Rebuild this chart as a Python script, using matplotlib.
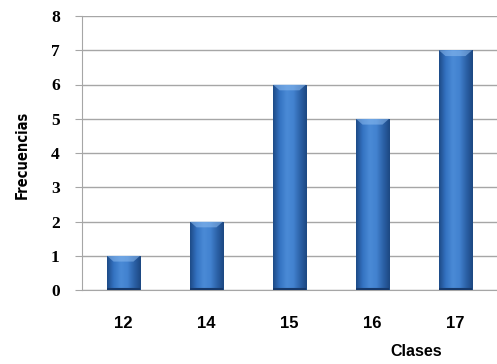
import numpy as np
import matplotlib
matplotlib.use("Agg")
import matplotlib.pyplot as plt
from matplotlib.patches import Polygon
from matplotlib.colors import LinearSegmentedColormap

clases = ["12", "14", "15", "16", "17"]
frecuencias = [1, 2, 6, 5, 7]
y_ticks = [0, 1, 2, 3, 4, 5, 6, 7, 8]

fig = plt.figure(figsize=(4.97, 3.64), dpi=100)
ax = fig.add_axes([82 / 497, 1 - 290 / 364, 1 - 82 / 497, (290 - 16) / 364])

x = np.arange(len(clases))
width = 0.4
bars = ax.bar(x, frecuencias, width=width, color="#3a72bd", zorder=3,
              edgecolor="#1c4272", linewidth=0.6)

# cylinder-like horizontal shading inside each bar
shade = LinearSegmentedColormap.from_list(
    "shade", ["#1d4a86", "#3473c2", "#4a8ad6", "#4383d0", "#2c62a8", "#1c4780"])
grad = np.linspace(0, 1, 256).reshape(1, -1)
for b in bars:
    x0, w, h = b.get_x(), b.get_width(), b.get_height()
    im = ax.imshow(grad, cmap=shade, aspect="auto", extent=[x0, x0 + w, 0, h],
                   zorder=3.5, interpolation="bicubic")
    im.set_clip_path(b)
    # soft bevel at the top of the bar
    bev = 0.17
    inset = w * 0.2
    top = Polygon([[x0, h], [x0 + w, h], [x0 + w - inset, h - bev],
                   [x0 + inset, h - bev]], closed=True,
                  facecolor="#8dbcf0", edgecolor="none", zorder=4, alpha=0.55)
    ax.add_patch(top)
    # darker base
    ax.plot([x0, x0 + w], [0.025, 0.025], color="#17396a", lw=1.5, zorder=4,
            solid_capstyle="butt")

ax.set_xlim(-0.5, len(clases) - 0.5)
ax.set_ylim(0, 8)
ax.set_yticks(y_ticks)
ax.set_yticklabels([str(v) for v in y_ticks], fontfamily="Liberation Serif",
                   fontweight="bold", fontsize=12.5)
ax.set_xticks(x)
ax.set_xticklabels(clases, fontfamily="Liberation Sans", fontweight="bold",
                   fontsize=12)

ax.grid(axis="y", color="#a6a6a6", lw=1.0, zorder=0)
ax.set_axisbelow(True)
for s in ["top", "right"]:
    ax.spines[s].set_visible(False)
ax.spines["left"].set_color("#a6a6a6")
ax.spines["bottom"].set_color("#a6a6a6")
ax.tick_params(axis="y", length=5, color="#a6a6a6", pad=11)
ax.tick_params(axis="x", length=0, pad=19)

fig.text(22 / 497, 1 - 155 / 364, "Frecuencias", rotation=90, ha="center",
         va="center", fontfamily="DejaVu Sans", fontstretch="condensed",
         fontweight="bold", fontsize=10.5)
fig.text(416 / 497, 1 - 352 / 364, "Clases", ha="center", va="center",
         fontfamily="Liberation Sans", fontweight="bold", fontsize=11.5)

fig.savefig("out.png", dpi=100)
